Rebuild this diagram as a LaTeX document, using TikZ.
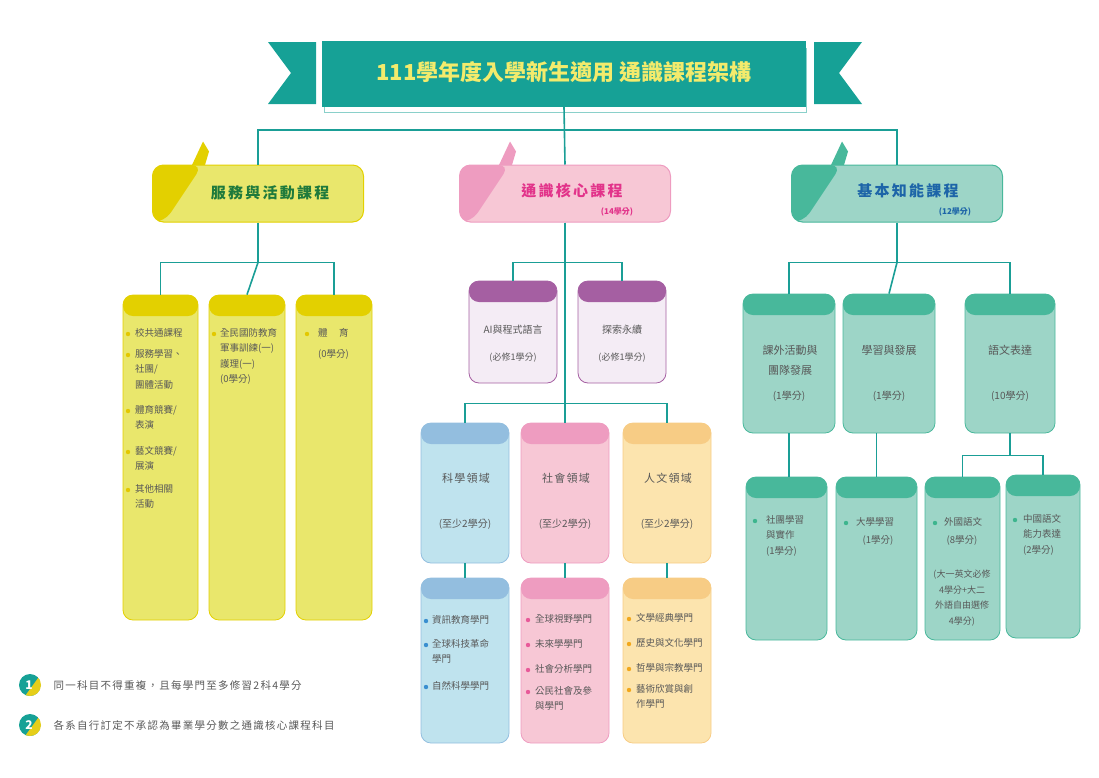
\documentclass[tikz,border=0pt]{standalone}
\usepackage{fontspec}
\setmainfont{Noto Sans CJK TC}
\newfontfamily\spaced[LetterSpace=12]{Noto Sans CJK TC}
\newfontfamily\spacedb[LetterSpace=15]{Noto Sans CJK TC}
\definecolor{teal1}{HTML}{16A196}
\definecolor{tline}{HTML}{1A9E96}
\definecolor{yhd}{HTML}{E3D000}
\definecolor{ybd}{HTML}{E9E76C}
\definecolor{bhd}{HTML}{93BEDF}
\definecolor{bbd}{HTML}{BFE3EE}
\definecolor{phd}{HTML}{EE9CC0}
\definecolor{pbd}{HTML}{F7C7D5}
\definecolor{ohd}{HTML}{F7CC85}
\definecolor{obd}{HTML}{FCE4AE}
\definecolor{ghd}{HTML}{48B89B}
\definecolor{gbd}{HTML}{9DD5C7}
\definecolor{vhd}{HTML}{A55FA2}
\definecolor{vbd}{HTML}{F4ECF5}
\definecolor{txt}{HTML}{585858}
\definecolor{gtxt}{HTML}{1F7A3C}
\definecolor{ptxt}{HTML}{E2338A}
\definecolor{btxt}{HTML}{1D65A8}
\definecolor{ttl}{HTML}{F3EB6C}
\definecolor{bulY}{HTML}{E3C800}
\definecolor{bulB}{HTML}{3A8FD0}
\definecolor{bulP}{HTML}{E85A9A}
\definecolor{bulO}{HTML}{F2A81D}
\definecolor{bulG}{HTML}{3DB58E}
\tikzset{
  conn/.style={draw=tline, line width=1.6pt},
  colbox/.style 2 args={draw=#1, line width=0.8pt, fill=#2, rounded corners=10pt, inner sep=0pt,
     path picture={\fill[#1] (path picture bounding box.north west) rectangle ([yshift=-21pt]path picture bounding box.north east);}},
  txt/.style={text=txt, font=\fontsize{9.5}{15.5}\selectfont, inner sep=0pt, align=left, anchor=north west},
  ctxt/.style={text=txt, font=\fontsize{10}{19}\selectfont, inner sep=0pt, align=center},
}
\newcommand\bul[3]{\fill[#1] (#2,#3) circle (2.2pt);}
\begin{document}
\begin{tikzpicture}[x=1pt,y=-1pt]
\useasboundingbox (0,0) rectangle (1099,777);
% ---- title banner
\fill[teal1] (268,42) -- (316,42) -- (316,104) -- (268,104) -- (291,73) -- cycle;
\fill[teal1] (862,42) -- (814,42) -- (814,104) -- (862,104) -- (839,73) -- cycle;
\draw[teal1!50, line width=0.8pt] (324,48) rectangle (806,112);
\node[fill=teal1, minimum width=484pt, minimum height=66pt, inner sep=0pt] (title) at (564,74) {};
\node[text=ttl, font=\fontsize{22}{22}\selectfont\bfseries] (ttext) at (564,72) {111學年度入學新生適用 通識課程架構};
% ---- category boxes
\newcommand\cat[6]{%
 \node[draw=#5, line width=1pt, fill=#6, rounded corners=11pt, minimum width=211pt, minimum height=57pt, inner sep=0pt,
   path picture={\fill[#5] (path picture bounding box.north west) -- ++(50,0) -- ([xshift=12pt]path picture bounding box.south west) -- (path picture bounding box.south west) -- cycle;}] (#1) at (#2,#3) {};
 \fill[#5] (#2-66,#3-28.5) -- (#2-55,#3-52) -- (#2-49,#3-42) -- (#2-53,#3-28.5) -- cycle;}
\cat{catA}{258}{193.5}{}{yhd}{ybd}
\cat{catB}{565}{193.5}{}{phd}{pbd}
\cat{catC}{897}{193.5}{}{ghd}{gbd}
\node[text=gtxt, font=\spacedb\fontsize{15}{15}\selectfont\bfseries] (catAt) at (270,193) {服務與活動課程};
\node[text=ptxt, font=\spacedb\fontsize{15}{15}\selectfont\bfseries] (catBt) at (572,191) {通識核心課程};
\node[text=ptxt, font=\fontsize{8}{8}\selectfont\bfseries] (catBs) at (617,212) {(14學分)};
\node[text=btxt, font=\spacedb\fontsize{15}{15}\selectfont\bfseries] (catCt) at (908,191) {基本知能課程};
\node[text=btxt, font=\fontsize{8}{8}\selectfont\bfseries] (catCs) at (955,212) {(12學分)};
% ---- yellow column
\node[colbox={yhd}{ybd}, minimum width=75pt, minimum height=325pt] (y1) at (160.5,457.5) {};
\node[colbox={yhd}{ybd}, minimum width=76pt, minimum height=325pt] (y2) at (247,457.5) {};
\node[colbox={yhd}{ybd}, minimum width=76pt, minimum height=325pt] (y3) at (334,457.5) {};
% ---- pink core
\node[colbox={vhd}{vbd}, minimum width=88pt, minimum height=102pt] (v1) at (513,332) {};
\node[colbox={vhd}{vbd}, minimum width=88pt, minimum height=102pt] (v2) at (622,332) {};
\node[colbox={bhd}{bbd}, minimum width=88pt, minimum height=140pt] (m1) at (465,493) {};
\node[colbox={phd}{pbd}, minimum width=88pt, minimum height=140pt] (m2) at (565,493) {};
\node[colbox={ohd}{obd}, minimum width=88pt, minimum height=140pt] (m3) at (667,493) {};
\node[colbox={bhd}{bbd}, minimum width=88pt, minimum height=165pt] (l1) at (465,660.5) {};
\node[colbox={phd}{pbd}, minimum width=88pt, minimum height=165pt] (l2) at (565,660.5) {};
\node[colbox={ohd}{obd}, minimum width=88pt, minimum height=165pt] (l3) at (667,660.5) {};
% ---- green
\node[colbox={ghd}{gbd}, minimum width=92pt, minimum height=139pt] (g1) at (789,363.5) {};
\node[colbox={ghd}{gbd}, minimum width=92pt, minimum height=139pt] (g2) at (889,363.5) {};
\node[colbox={ghd}{gbd}, minimum width=90pt, minimum height=139pt] (g3) at (1010,363.5) {};
\node[colbox={ghd}{gbd}, minimum width=81pt, minimum height=163pt] (h1) at (786.5,558.5) {};
\node[colbox={ghd}{gbd}, minimum width=81pt, minimum height=163pt] (h2) at (876.5,558.5) {};
\node[colbox={ghd}{gbd}, minimum width=75pt, minimum height=163pt] (h3) at (962.5,558.5) {};
\node[colbox={ghd}{gbd}, minimum width=74pt, minimum height=163pt] (h4) at (1043,556.5) {};
% ---- connectors
\draw[conn] (title.south) -- (catB.north);
\draw[conn] (title.south) ++(0,23) coordinate (hub) -| (catA.north);
\draw[conn] (hub) -| (catC.north);
\draw[conn] (catA.south) -- ++(0,40) coordinate (ya) -| (y1.north);
\draw[conn] (ya) -- (y2.north);
\draw[conn] (ya) -| (y3.north);
\draw[conn] (catB.south) -- ++(0,40) coordinate (pa) -| (v1.north);
\draw[conn] (pa) -| (v2.north);
\draw[conn] (catB.south) -- ++(0,181) coordinate (pb) -| (m1.north);
\draw[conn] (pb) -- (m2.north);
\draw[conn] (pb) -| (m3.north);
\draw[conn] (m1.south) -- (l1.north);
\draw[conn] (m2.south) -- (l2.north);
\draw[conn] (m3.south) -- (l3.north);
\draw[conn] (catC.south) -- ++(0,40) coordinate (ga) -| (g1.north);
\draw[conn] (ga) -- (g2.north);
\draw[conn] (ga) -| (g3.north);
\draw[conn] (g1.south) -- (g1.south |- h1.north);
\draw[conn] (g2.south -| h2.north) -- (h2.north);
\draw[conn] (g3.south) -- ++(0,22) coordinate (gb) -| (h3.north);
\draw[conn] (gb) -| (h4.north);
% ---- yellow texts
\bul{bulY}{128}{334}\node[txt] (ya1) at (135,328) {校共通課程};
\bul{bulY}{128}{355}\node[txt] (ya2) at (135,349) {服務學習、\\社團/\\團體活動};
\bul{bulY}{128}{411}\node[txt] (ya3) at (135,405) {體育競賽/\\表演};
\bul{bulY}{128}{452}\node[txt] (ya4) at (135,446) {藝文競賽/\\展演};
\bul{bulY}{128}{490}\node[txt] (ya5) at (135,484) {其他相關\\活動};
\bul{bulY}{214}{334}\node[txt] (yb1) at (220,328) {全民國防教育\\軍事訓練(一)\\護理(一)\\(0學分)};
\bul{bulY}{307}{334}\node[txt] (yc1) at (318,328) {體\hspace{1.2em}育};
\node[txt] (yc2) at (318,349) {(0學分)};
% ---- pink texts
\node[ctxt] (v1t) at (513,330) {AI與程式語言};
\node[ctxt, font=\fontsize{9}{9}\selectfont] (v1s) at (513,358) {(必修1學分)};
\node[ctxt] (v2t) at (622,330) {探索永續};
\node[ctxt, font=\fontsize{9}{9}\selectfont] (v2s) at (622,358) {(必修1學分)};
\node[ctxt, font=\spaced\fontsize{11}{11}\selectfont] (m1t) at (466,478) {科學領域};
\node[ctxt] (m1s) at (465,524) {(至少2學分)};
\node[ctxt, font=\spaced\fontsize{11}{11}\selectfont] (m2t) at (566,478) {社會領域};
\node[ctxt] (m2s) at (565,524) {(至少2學分)};
\node[ctxt, font=\spaced\fontsize{11}{11}\selectfont] (m3t) at (668,478) {人文領域};
\node[ctxt] (m3s) at (667,524) {(至少2學分)};
\bul{bulB}{426}{621}\node[txt] (l1a) at (432,615) {資訊教育學門};
\bul{bulB}{426}{645}\node[txt] (l1b) at (432,639) {全球科技革命\\學門};
\bul{bulB}{426}{687}\node[txt] (l1c) at (432,681) {自然科學學門};
\bul{bulP}{528}{620}\node[txt] (l2a) at (535,614) {全球視野學門};
\bul{bulP}{528}{645}\node[txt] (l2b) at (535,639) {未來學學門};
\bul{bulP}{528}{670}\node[txt] (l2c) at (535,664) {社會分析學門};
\bul{bulP}{528}{692}\node[txt] (l2d) at (535,686) {公民社會及參\\與學門};
\bul{bulO}{629}{619}\node[txt] (l3a) at (636,613) {文學經典學門};
\bul{bulO}{629}{644}\node[txt] (l3b) at (636,638) {歷史與文化學門};
\bul{bulO}{629}{669}\node[txt] (l3c) at (636,663) {哲學與宗教學門};
\bul{bulO}{629}{690}\node[txt] (l3d) at (636,684) {藝術欣賞與創\\作學門};
% ---- green texts
\node[ctxt, font=\fontsize{11}{20}\selectfont] (g1t) at (790,360) {課外活動與\\團隊發展};
\node[ctxt] (g1s) at (789,396) {(1學分)};
\node[ctxt, font=\fontsize{11}{20}\selectfont] (g2t) at (889,350) {學習與發展};
\node[ctxt] (g2s) at (889,396) {(1學分)};
\node[ctxt, font=\fontsize{11}{20}\selectfont] (g3t) at (1010,350) {語文表達};
\node[ctxt] (g3s) at (1010,396) {(10學分)};
\bul{bulG}{755}{521}\node[txt] (h1t) at (766,515) {社團學習\\與實作\\(1學分)};
\bul{bulG}{846}{523}\node[txt] (h2t) at (856,517) {大學學習};
\node[ctxt, font=\fontsize{9.5}{15.5}\selectfont] (h2s) at (878,540) {(1學分)};
\bul{bulG}{935}{523}\node[txt] (h3t) at (944,517) {外國語文};
\node[ctxt, font=\fontsize{9.5}{15.5}\selectfont] (h3s) at (962,540) {(8學分)};
\node[ctxt, font=\fontsize{9}{15.5}\selectfont] (h3n) at (962,598) {(大一英文必修\\4學分+大二\\外語自由選修\\4學分)};
\bul{bulG}{1015}{520}\node[txt] (h4t) at (1023,514) {中國語文\\能力表達\\(2學分)};
% ---- footnotes
\newcommand\fn[3]{%
 \begin{scope}
 \clip (30,#1) circle (11pt);
 \fill[teal1] (30,#1) circle (11pt);
 \fill[bulY!90] (41,#1-11) -- (41,#1+11) -- (25,#1+11) -- cycle;
 \end{scope}
 \node[text=white, font=\fontsize{12}{12}\selectfont\bfseries] (#2) at (29,#1) {#3};}
\fn{685}{c1}{1}
\fn{725}{c2}{2}
\node[text=txt, font=\spaced\fontsize{10.5}{10.5}\selectfont, anchor=west] (f1) at (50,685) {同一科目不得重複，且每學門至多修習2科4學分};
\node[text=txt, font=\spaced\fontsize{10.5}{10.5}\selectfont, anchor=west] (f2) at (50,725) {各系自行訂定不承認為畢業學分數之通識核心課程科目};
\end{tikzpicture}
\end{document}
